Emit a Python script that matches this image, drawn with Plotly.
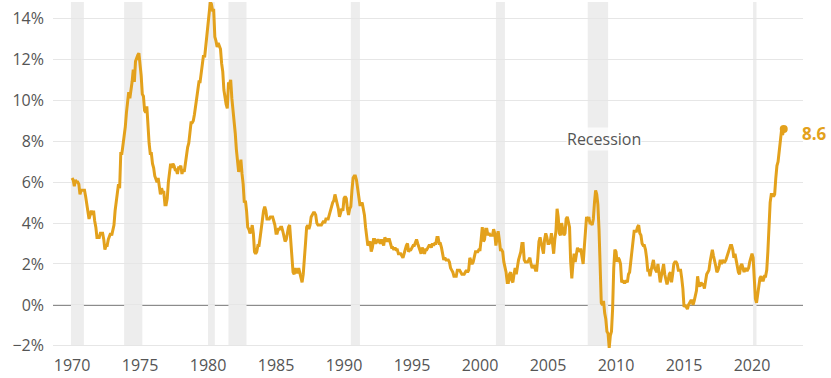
import plotly.graph_objects as go

# Consumer price index, 12-month percent change, monthly Jan 1970 - May 2022
years = list(range(1970, 2023))
yoy_pct = [
    # 1970
    6.2, 6.1, 5.8, 6.1, 6.0, 6.0, 5.9, 5.4, 5.6, 5.6, 5.6, 5.6,
    # 1971
    5.3, 5.0, 4.7, 4.2, 4.4, 4.6, 4.4, 4.6, 4.1, 3.8, 3.3, 3.3,
    # 1972
    3.3, 3.5, 3.5, 3.5, 3.2, 2.7, 2.9, 2.9, 3.2, 3.4, 3.5, 3.4,
    # 1973
    3.6, 3.9, 4.6, 5.1, 5.5, 5.9, 5.7, 7.4, 7.4, 7.8, 8.3, 8.7,
    # 1974
    9.4, 10.0, 10.4, 10.1, 10.7, 10.9, 11.5, 10.9, 11.9, 12.1, 12.2, 12.3,
    # 1975
    11.8, 11.2, 10.3, 10.2, 9.5, 9.4, 9.7, 8.6, 7.9, 7.4, 7.4, 6.9,
    # 1976
    6.7, 6.3, 6.1, 6.0, 6.2, 5.9, 5.4, 5.7, 5.5, 5.5, 4.9, 4.9,
    # 1977
    5.2, 6.0, 6.4, 6.9, 6.7, 6.9, 6.8, 6.6, 6.6, 6.4, 6.7, 6.7,
    # 1978
    6.8, 6.4, 6.6, 6.5, 6.9, 7.4, 7.7, 7.9, 8.3, 8.9, 8.9, 9.0,
    # 1979
    9.3, 9.9, 10.1, 10.5, 10.9, 10.9, 11.3, 11.8, 12.2, 12.1, 12.6, 13.3,
    # 1980
    13.9, 14.2, 14.8, 14.7, 14.4, 14.4, 13.1, 12.9, 12.6, 12.8, 12.6, 12.5,
    # 1981
    11.8, 11.4, 10.5, 10.0, 9.8, 9.6, 10.8, 10.8, 11.0, 10.1, 9.6, 8.9,
    # 1982
    8.4, 7.6, 6.8, 6.5, 6.7, 7.1, 6.4, 5.9, 5.0, 5.1, 4.6, 3.8,
    # 1983
    3.7, 3.5, 3.6, 3.9, 3.5, 2.6, 2.5, 2.6, 2.9, 2.9, 3.3, 3.8,
    # 1984
    4.2, 4.6, 4.8, 4.6, 4.2, 4.2, 4.2, 4.3, 4.3, 4.3, 4.1, 3.9,
    # 1985
    3.5, 3.5, 3.7, 3.7, 3.8, 3.8, 3.6, 3.3, 3.1, 3.2, 3.5, 3.8,
    # 1986
    3.9, 3.1, 2.2, 1.6, 1.5, 1.8, 1.6, 1.6, 1.8, 1.5, 1.3, 1.1,
    # 1987
    1.5, 2.1, 3.0, 3.8, 3.9, 3.7, 3.9, 4.3, 4.4, 4.5, 4.5, 4.4,
    # 1988
    4.0, 3.9, 3.9, 3.9, 3.9, 4.0, 4.1, 4.0, 4.2, 4.2, 4.2, 4.4,
    # 1989
    4.7, 4.8, 5.0, 5.1, 5.4, 5.2, 5.0, 4.7, 4.3, 4.5, 4.7, 4.6,
    # 1990
    5.2, 5.3, 5.2, 4.7, 4.4, 4.7, 4.8, 5.6, 6.2, 6.3, 6.3, 6.1,
    # 1991
    5.7, 5.3, 4.9, 4.9, 5.0, 4.7, 4.4, 3.8, 3.4, 2.9, 3.0, 3.1,
    # 1992
    2.6, 2.8, 3.2, 3.2, 3.0, 3.1, 3.2, 3.1, 3.0, 3.2, 3.0, 2.9,
    # 1993
    3.3, 3.2, 3.1, 3.2, 3.2, 3.0, 2.8, 2.8, 2.7, 2.8, 2.7, 2.7,
    # 1994
    2.5, 2.5, 2.5, 2.4, 2.3, 2.5, 2.8, 2.9, 3.0, 2.6, 2.7, 2.7,
    # 1995
    2.8, 2.9, 2.9, 3.1, 3.2, 3.0, 2.8, 2.6, 2.5, 2.8, 2.6, 2.5,
    # 1996
    2.7, 2.7, 2.8, 2.9, 2.9, 2.8, 3.0, 2.9, 3.0, 3.0, 3.3, 3.3,
    # 1997
    3.0, 3.0, 2.8, 2.5, 2.2, 2.3, 2.2, 2.2, 2.2, 2.1, 1.8, 1.7,
    # 1998
    1.6, 1.4, 1.4, 1.4, 1.7, 1.7, 1.7, 1.6, 1.5, 1.5, 1.5, 1.6,
    # 1999
    1.7, 1.6, 1.7, 2.3, 2.1, 2.0, 2.1, 2.3, 2.6, 2.6, 2.6, 2.7,
    # 2000
    2.7, 3.2, 3.8, 3.1, 3.2, 3.7, 3.7, 3.4, 3.5, 3.4, 3.4, 3.4,
    # 2001
    3.7, 3.5, 2.9, 3.3, 3.6, 3.2, 2.7, 2.7, 2.6, 2.1, 1.9, 1.6,
    # 2002
    1.1, 1.1, 1.5, 1.6, 1.2, 1.1, 1.5, 1.8, 1.5, 2.0, 2.2, 2.4,
    # 2003
    2.6, 3.0, 3.0, 2.2, 2.1, 2.1, 2.1, 2.2, 2.3, 2.0, 1.8, 1.9,
    # 2004
    1.9, 1.7, 1.7, 2.3, 3.1, 3.3, 3.0, 2.7, 2.5, 3.2, 3.5, 3.3,
    # 2005
    3.0, 3.0, 3.1, 3.5, 2.8, 2.5, 3.2, 3.6, 4.7, 4.3, 3.5, 3.4,
    # 2006
    4.0, 3.6, 3.4, 3.5, 4.2, 4.3, 4.1, 3.8, 2.1, 1.3, 2.0, 2.5,
    # 2007
    2.1, 2.4, 2.8, 2.6, 2.7, 2.7, 2.4, 2.0, 2.8, 3.5, 4.3, 4.1,
    # 2008
    4.3, 4.0, 4.0, 3.9, 4.2, 5.0, 5.6, 5.4, 4.9, 3.7, 1.1, 0.1,
    # 2009
    0.0, 0.2, -0.4, -0.7, -1.3, -1.4, -2.1, -1.5, -1.3, -0.2, 1.8, 2.7,
    # 2010
    2.6, 2.1, 2.3, 2.2, 2.0, 1.1, 1.2, 1.1, 1.1, 1.2, 1.1, 1.5,
    # 2011
    1.6, 2.1, 2.7, 3.2, 3.6, 3.6, 3.6, 3.8, 3.9, 3.5, 3.4, 3.0,
    # 2012
    2.9, 2.9, 2.7, 2.3, 1.7, 1.7, 1.4, 1.7, 2.0, 2.2, 1.8, 1.7,
    # 2013
    1.6, 2.0, 1.5, 1.1, 1.4, 1.8, 2.0, 1.5, 1.2, 1.0, 1.2, 1.5,
    # 2014
    1.6, 1.1, 1.5, 2.0, 2.1, 2.1, 2.0, 1.7, 1.7, 1.7, 1.3, 0.8,
    # 2015
    -0.1, 0.0, -0.1, -0.2, 0.0, 0.1, 0.2, 0.2, 0.0, 0.2, 0.5, 0.7,
    # 2016
    1.4, 1.0, 0.9, 1.1, 1.0, 1.0, 0.8, 1.1, 1.5, 1.6, 1.7, 2.1,
    # 2017
    2.5, 2.7, 2.4, 2.2, 1.9, 1.6, 1.7, 1.9, 2.2, 2.0, 2.2, 2.1,
    # 2018
    2.1, 2.2, 2.4, 2.5, 2.8, 2.9, 2.9, 2.7, 2.3, 2.5, 2.2, 1.9,
    # 2019
    1.6, 1.5, 1.9, 2.0, 1.8, 1.6, 1.8, 1.7, 1.7, 1.8, 2.1, 2.3,
    # 2020
    2.5, 2.3, 1.5, 0.3, 0.1, 0.6, 1.0, 1.3, 1.4, 1.2, 1.2, 1.4,
    # 2021
    1.4, 1.7, 2.6, 4.2, 5.0, 5.4, 5.4, 5.3, 5.4, 6.2, 6.8, 7.0,
    # 2022
    7.5, 7.9, 8.5, 8.3, 8.6,
]

# Recession periods (decimal years, start / end)
recession_start = [1969.92, 1973.83, 1980.0, 1981.5, 1990.5, 2001.17, 2007.92, 2020.08]
recession_end = [1970.87, 1975.17, 1980.5, 1982.83, 1991.17, 2001.83, 2009.42, 2020.33]

x_ticks = [1970, 1975, 1980, 1985, 1990, 1995, 2000, 2005, 2010, 2015, 2020]
y_ticks = [-2, 0, 2, 4, 6, 8, 10, 12, 14]
y_tick_text = ["\u22122%", "0%", "2%", "4%", "6%", "8%", "10%", "12%", "14%"]

LINE = "#E3A11C"
TEXT = "#555555"
FONT = "Open Sans"

# monthly positions as decimal years
x_vals = [years[0] + i / 12 for i in range(len(yoy_pct))]

fig = go.Figure()

fig.add_trace(go.Scatter(
    x=x_vals, y=yoy_pct, mode="lines",
    line=dict(color=LINE, width=3),
    hoverinfo="skip", showlegend=False,
))

# final reading marker
fig.add_trace(go.Scatter(
    x=[x_vals[-1]], y=[yoy_pct[-1]], mode="markers",
    marker=dict(color=LINE, size=8),
    hoverinfo="skip", showlegend=False,
))

for s, e in zip(recession_start, recession_end):
    fig.add_shape(type="rect", xref="x", yref="y", x0=s, x1=e, y0=-2, y1=14.8,
                  fillcolor="#ededed", line=dict(width=0), layer="below")

fig.add_shape(type="line", xref="paper", yref="y", x0=0, x1=1, y0=0, y1=0,
              line=dict(color="#666666", width=1.5), layer="below")

fig.add_annotation(x=2009.1, y=8.1, text="Recession", showarrow=False,
                   font=dict(family=FONT, size=16, color=TEXT),
                   bgcolor="rgba(255,255,255,0.75)", borderpad=0)

fig.add_annotation(x=x_vals[-1], y=yoy_pct[-1], text="<b>%.1f</b>" % yoy_pct[-1],
                   showarrow=False, xanchor="left", xshift=16, yshift=-5,
                   font=dict(family=FONT, size=17, color=LINE))

fig.update_layout(
    width=831, height=378,
    margin=dict(l=53, r=28, t=2, b=26),
    paper_bgcolor="white", plot_bgcolor="white",
    font=dict(family=FONT, size=16, color=TEXT),
    xaxis=dict(range=[1968.6, 2023.75], tickvals=x_ticks,
               showgrid=False, zeroline=False, showline=False,
               ticks="", ticklabelstandoff=2, automargin=False,
               tickfont=dict(size=16, color=TEXT)),
    yaxis=dict(range=[-2.3, 14.8], tickvals=y_ticks, ticktext=y_tick_text,
               showgrid=True, gridcolor="#e6e6e6", gridwidth=1,
               zeroline=False, showline=False, ticks="", automargin=False,
               ticklabelstandoff=8, tickfont=dict(size=16, color=TEXT)),
)

fig.write_html("out.html")
